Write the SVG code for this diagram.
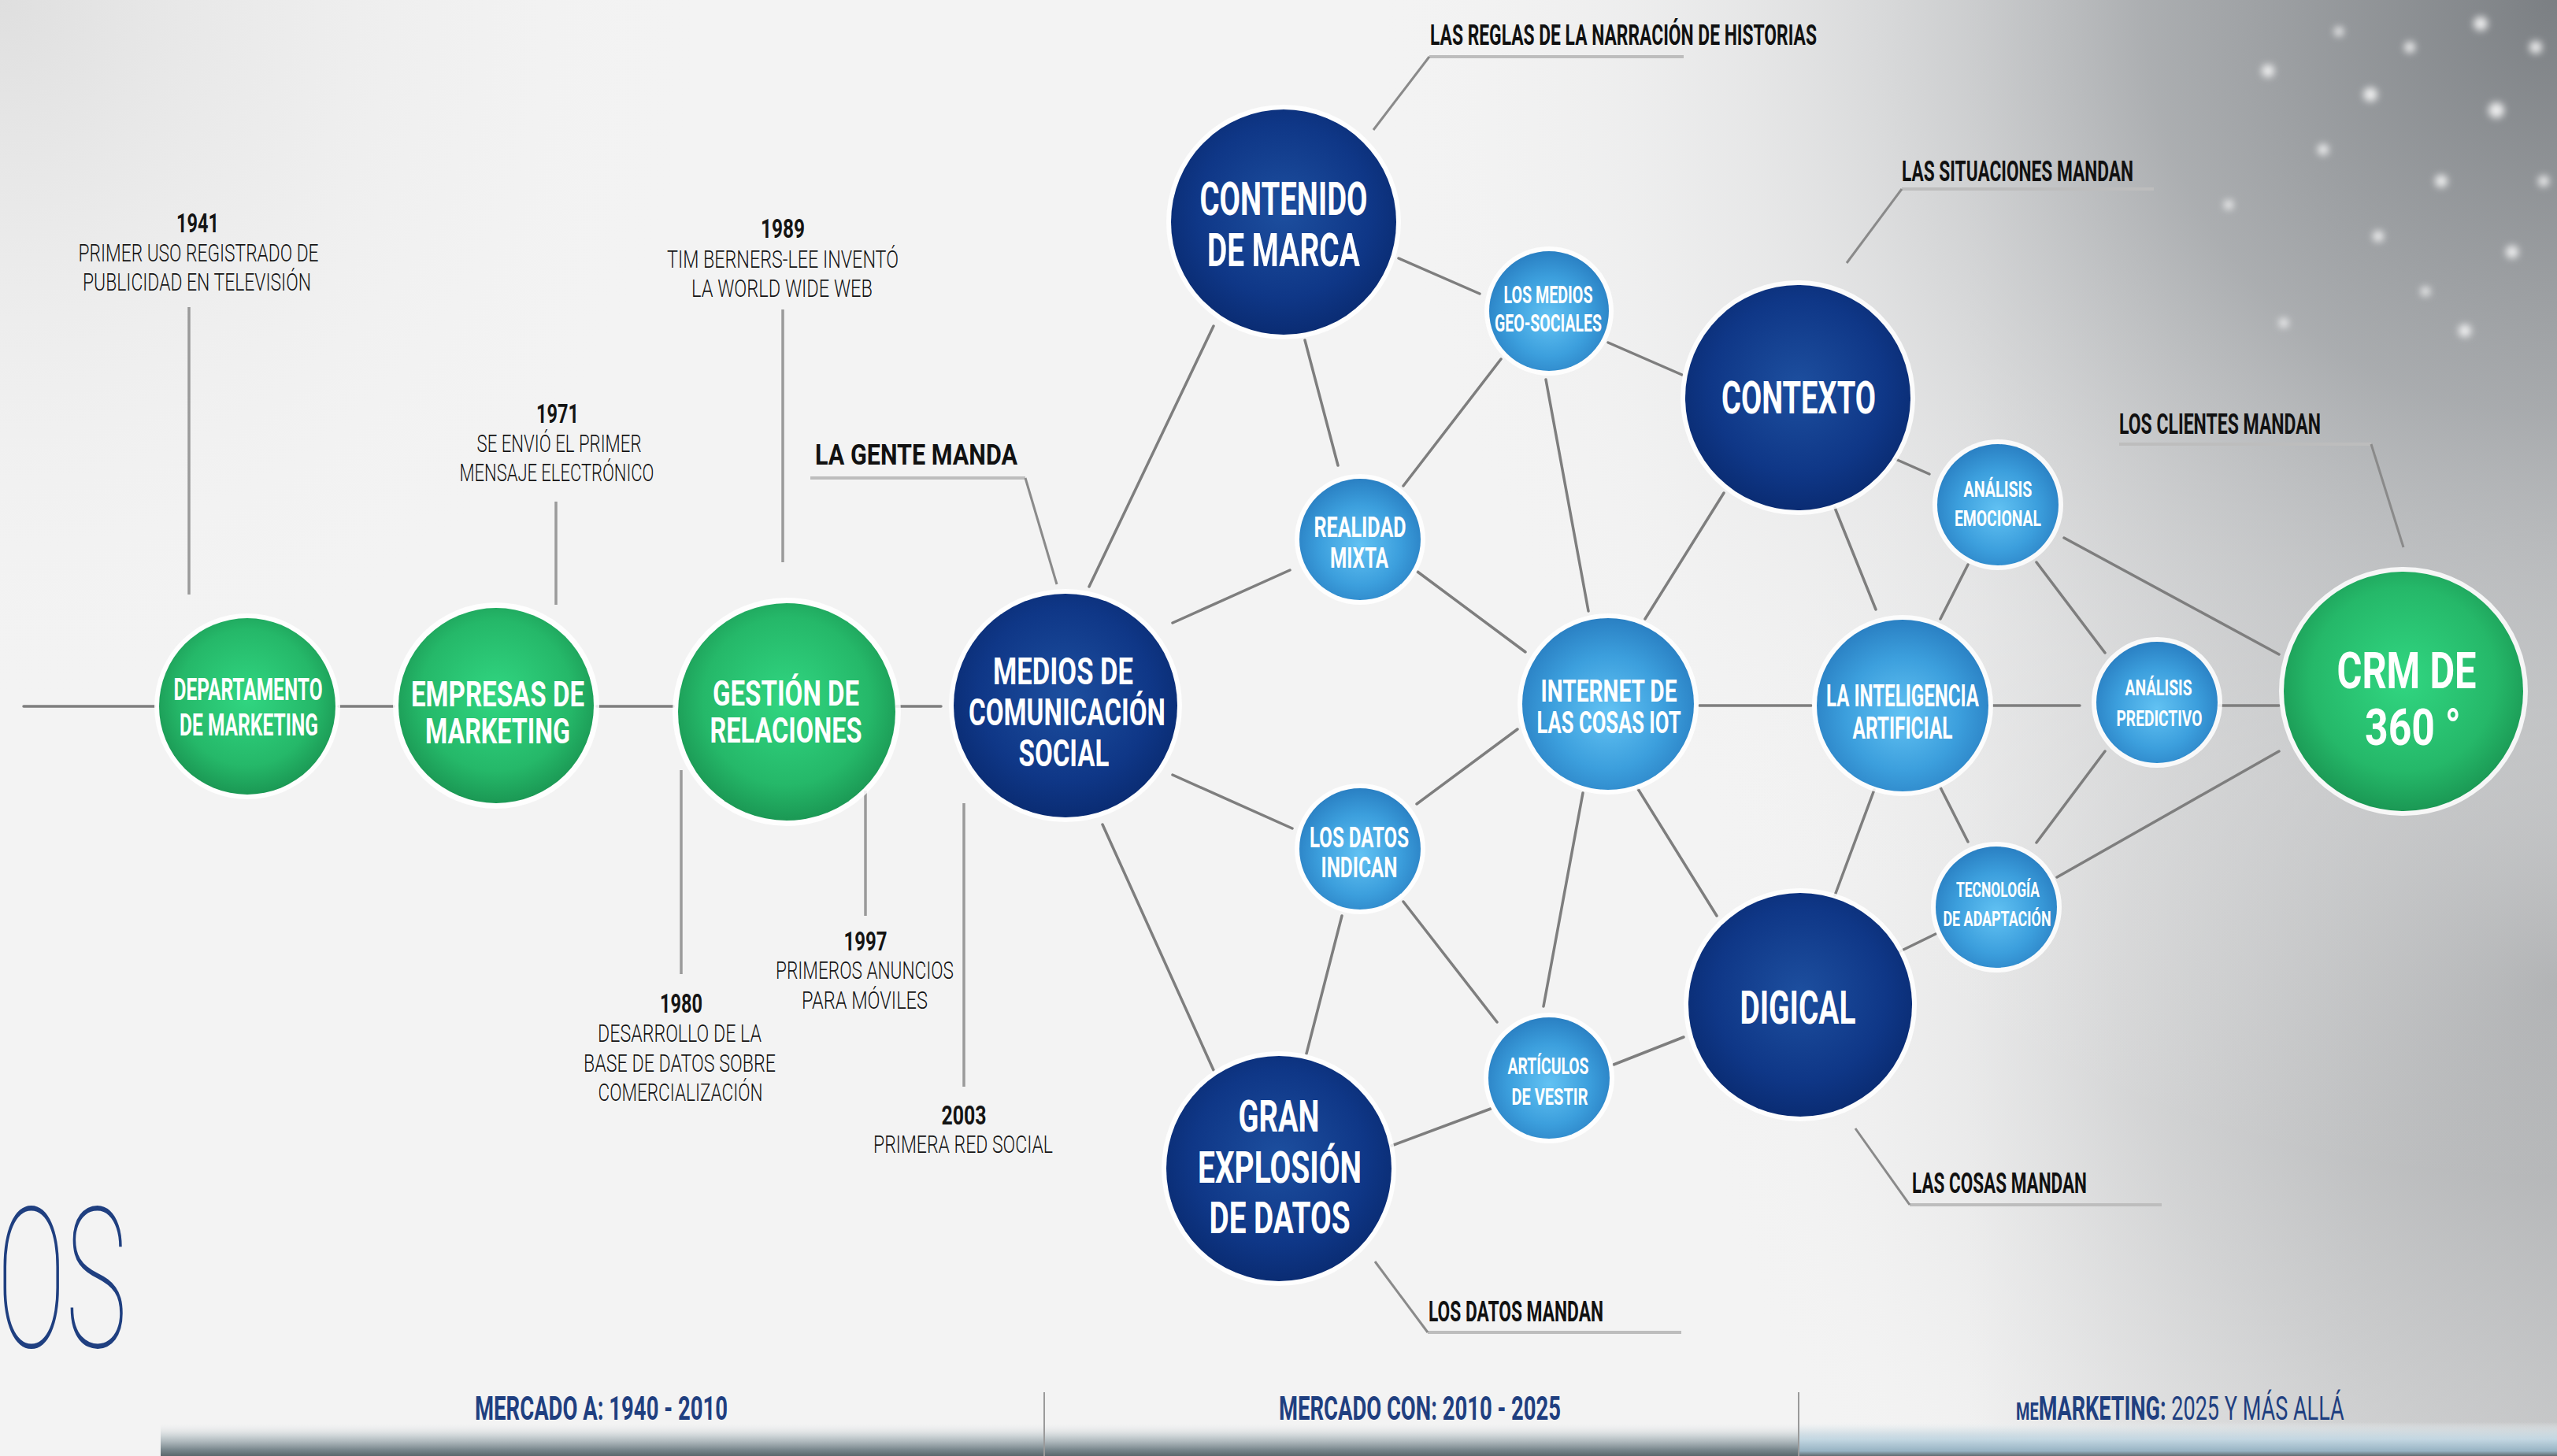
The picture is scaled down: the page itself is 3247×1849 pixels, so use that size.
<svg xmlns="http://www.w3.org/2000/svg" width="3247" height="1849" viewBox="0 0 3247 1849">
<defs>
<style>
.conn{stroke:#7e7e7e;stroke-width:3.5;fill:none;stroke-linecap:round}
.tl{stroke:#9a9a9a;stroke-width:3.5;fill:none}
.under{stroke:#bdbdbd;stroke-width:4;fill:none}
.lead{stroke:#8a8a8a;stroke-width:3;fill:none}
.halo{fill:#ffffff;opacity:0.85}
.nt{font-family:"Roboto","Liberation Sans",sans-serif;font-weight:700;fill:#ffffff;text-anchor:middle}
.ann{font-family:"Roboto","Liberation Sans",sans-serif;fill:#141414;text-anchor:middle}
.yr{font-weight:700;font-size:34px}
.ds{font-weight:300;font-size:32px}
.ld{font-family:"Roboto","Liberation Sans",sans-serif;font-weight:700;fill:#111111;font-size:36px}
.bt{font-family:"Roboto","Liberation Sans",sans-serif;font-weight:700;fill:#1f3f80;font-size:42px}
</style>
<radialGradient id="gGreen" cx="50%" cy="45%" r="55%">
<stop offset="0" stop-color="#31d681"/><stop offset="0.7" stop-color="#25b869"/><stop offset="1" stop-color="#1b9854"/>
</radialGradient>
<radialGradient id="gDark" cx="50%" cy="45%" r="55%">
<stop offset="0" stop-color="#1d4f9f"/><stop offset="0.7" stop-color="#0f3787"/><stop offset="1" stop-color="#0a2c73"/>
</radialGradient>
<radialGradient id="gLight" cx="50%" cy="55%" r="55%">
<stop offset="0" stop-color="#62c2f3"/><stop offset="0.6" stop-color="#3c9fdd"/><stop offset="1" stop-color="#2a80c3"/>
</radialGradient>
<radialGradient id="bgTR" cx="3247" cy="0" r="1500" gradientUnits="userSpaceOnUse">
<stop offset="0" stop-color="#7b7f83" stop-opacity="1"/><stop offset="0.35" stop-color="#a2a5a8" stop-opacity="0.85"/><stop offset="0.7" stop-color="#d6d7d8" stop-opacity="0.4"/><stop offset="1" stop-color="#f3f3f3" stop-opacity="0"/>
</radialGradient>
<radialGradient id="bgBR" cx="3247" cy="1250" r="1100" gradientUnits="userSpaceOnUse">
<stop offset="0" stop-color="#a3a5a7" stop-opacity="0.95"/><stop offset="0.5" stop-color="#c9cacb" stop-opacity="0.6"/><stop offset="1" stop-color="#f3f3f3" stop-opacity="0"/>
</radialGradient>
<linearGradient id="bgR" x1="2500" y1="0" x2="3247" y2="0" gradientUnits="userSpaceOnUse">
<stop offset="0" stop-color="#b0b2b4" stop-opacity="0"/><stop offset="1" stop-color="#aeb0b2" stop-opacity="0.75"/>
</linearGradient>
<radialGradient id="bgTL" cx="0" cy="0" r="900" gradientUnits="userSpaceOnUse">
<stop offset="0" stop-color="#dadada" stop-opacity="0.8"/><stop offset="1" stop-color="#f3f3f3" stop-opacity="0"/>
</radialGradient>
<linearGradient id="band" x1="0" y1="0" x2="0" y2="1">
<stop offset="0" stop-color="#f4f4f4" stop-opacity="0"/><stop offset="0.45" stop-color="#b9c3c7" stop-opacity="0.8"/><stop offset="0.8" stop-color="#7c8a90"/><stop offset="1" stop-color="#5b676c"/>
</linearGradient>
<linearGradient id="bandR" x1="0" y1="0" x2="0" y2="1">
<stop offset="0" stop-color="#e8f0f4" stop-opacity="0"/><stop offset="0.5" stop-color="#c5dae6" stop-opacity="0.9"/><stop offset="0.85" stop-color="#98b4c4"/><stop offset="1" stop-color="#5f6b70"/>
</linearGradient>
<filter id="blur" x="-2" y="-2" width="5" height="5"><feGaussianBlur stdDeviation="5"/></filter>
</defs>

<!-- background -->
<rect x="0" y="0" width="3247" height="1849" fill="#f3f3f3"/>
<rect x="0" y="0" width="3247" height="1849" fill="url(#bgTL)"/>
<rect x="0" y="0" width="3247" height="1849" fill="url(#bgR)"/>
<rect x="0" y="0" width="3247" height="1849" fill="url(#bgBR)"/>
<rect x="0" y="0" width="3247" height="1849" fill="url(#bgTR)"/>
<g fill="#ffffff" filter="url(#blur)" opacity="0.85">
<circle cx="2880" cy="90" r="8"/><circle cx="2950" cy="190" r="7"/><circle cx="3010" cy="120" r="9"/><circle cx="3100" cy="230" r="8"/>
<circle cx="3060" cy="60" r="7"/><circle cx="3170" cy="140" r="10"/><circle cx="3020" cy="300" r="7"/><circle cx="3190" cy="320" r="8"/>
<circle cx="2900" cy="410" r="6"/><circle cx="3130" cy="420" r="8"/><circle cx="3220" cy="60" r="8"/><circle cx="2830" cy="260" r="6"/>
<circle cx="3080" cy="370" r="6"/><circle cx="2970" cy="40" r="6"/><circle cx="3150" cy="30" r="9"/><circle cx="3230" cy="230" r="7"/>
</g>

<!-- big thin letters at left -->
<text x="-4" y="1711" textLength="165" lengthAdjust="spacingAndGlyphs" font-family="Roboto, 'Liberation Sans', sans-serif" font-weight="100" font-size="248" fill="#1f3f80">OS</text>

<!-- bottom band -->
<g id="bottom-band">
<rect x="204" y="1806" width="3043" height="43" fill="url(#band)"/>
<rect x="2284" y="1806" width="963" height="43" fill="url(#bandR)"/>
<line x1="1326" y1="1768" x2="1326" y2="1849" stroke="#9a9a9a" stroke-width="2"/>
<line x1="2284" y1="1768" x2="2284" y2="1849" stroke="#9a9a9a" stroke-width="2"/>
<text class="bt" x="603" y="1803" textLength="321" lengthAdjust="spacingAndGlyphs">MERCADO A: 1940 - 2010</text>
<text class="bt" x="1624" y="1803" textLength="358" lengthAdjust="spacingAndGlyphs">MERCADO CON: 2010 - 2025</text>
<text class="bt" font-size="40" transform="translate(2560,1803) scale(0.644,1)"><tspan font-size="31">ME</tspan>MARKETING:<tspan font-weight="400"> 2025 Y MÁS ALLÁ</tspan></text>
</g>

<!-- connectors -->
<g id="connectors">
<line class="conn" x1="30" y1="897" x2="196" y2="897"/>
<line class="conn" x1="430" y1="897" x2="500" y2="897"/>
<line class="conn" x1="758" y1="897" x2="855" y2="897"/>
<line class="conn" x1="1138" y1="897" x2="1195" y2="897"/>
<line class="conn" x1="2158" y1="896" x2="2300" y2="896"/>
<line class="conn" x1="2531" y1="896" x2="2641" y2="896"/>
<line class="conn" x1="2818" y1="896" x2="2894" y2="896"/>
<line class="conn" x1="1383" y1="745" x2="1541" y2="414"/>
<line class="conn" x1="1489" y1="791" x2="1638" y2="724"/>
<line class="conn" x1="1489" y1="984" x2="1641" y2="1052"/>
<line class="conn" x1="1400" y1="1047" x2="1541" y2="1359"/>
<line class="conn" x1="1776" y1="328" x2="1879" y2="373"/>
<line class="conn" x1="1657" y1="432" x2="1699" y2="591"/>
<line class="conn" x1="1782" y1="617" x2="1906" y2="456"/>
<line class="conn" x1="2042" y1="435" x2="2136" y2="476"/>
<line class="conn" x1="1963" y1="482" x2="2017" y2="776"/>
<line class="conn" x1="1800" y1="726" x2="1937" y2="828"/>
<line class="conn" x1="2189" y1="626" x2="2089" y2="786"/>
<line class="conn" x1="1799" y1="1021" x2="1927" y2="926"/>
<line class="conn" x1="1704" y1="1163" x2="1659" y2="1338"/>
<line class="conn" x1="1782" y1="1145" x2="1901" y2="1298"/>
<line class="conn" x1="2010" y1="1007" x2="1960" y2="1278"/>
<line class="conn" x1="2080" y1="1002" x2="2180" y2="1163"/>
<line class="conn" x1="1767" y1="1455" x2="1893" y2="1408"/>
<line class="conn" x1="2049" y1="1352" x2="2138" y2="1317"/>
<line class="conn" x1="2330" y1="645" x2="2382" y2="774"/>
<line class="conn" x1="2407" y1="583" x2="2450" y2="602"/>
<line class="conn" x1="2499" y1="717" x2="2464" y2="786"/>
<line class="conn" x1="2586" y1="714" x2="2673" y2="829"/>
<line class="conn" x1="2621" y1="683" x2="2894" y2="831"/>
<line class="conn" x1="2330" y1="1137" x2="2380" y2="1003"/>
<line class="conn" x1="2464" y1="1000" x2="2499" y2="1069"/>
<line class="conn" x1="2586" y1="1070" x2="2673" y2="954"/>
<line class="conn" x1="2612" y1="1114" x2="2894" y2="954"/>
<line class="conn" x1="2413" y1="1208" x2="2458" y2="1186"/>
</g>

<!-- timeline annotations -->
<g id="timeline">
<line class="tl" x1="240" y1="390" x2="240" y2="755"/>
<text class="ann"><tspan class="yr" x="251" y="295" textLength="54" lengthAdjust="spacingAndGlyphs">1941</tspan><tspan class="ds" x="252" y="332" textLength="305" lengthAdjust="spacingAndGlyphs">PRIMER USO REGISTRADO DE</tspan><tspan class="ds" x="250" y="369" textLength="290" lengthAdjust="spacingAndGlyphs">PUBLICIDAD EN TELEVISIÓN</tspan></text>

<line class="tl" x1="706" y1="637" x2="706" y2="768"/>
<text class="ann"><tspan class="yr" x="708" y="537" textLength="54" lengthAdjust="spacingAndGlyphs">1971</tspan><tspan class="ds" x="710" y="574" textLength="209" lengthAdjust="spacingAndGlyphs">SE ENVIÓ EL PRIMER</tspan><tspan class="ds" x="707" y="611" textLength="247" lengthAdjust="spacingAndGlyphs">MENSAJE ELECTRÓNICO</tspan></text>

<line class="tl" x1="994" y1="393" x2="994" y2="714"/>
<text class="ann"><tspan class="yr" x="994" y="302" textLength="56" lengthAdjust="spacingAndGlyphs">1989</tspan><tspan class="ds" x="994" y="340" textLength="294" lengthAdjust="spacingAndGlyphs">TIM BERNERS-LEE INVENTÓ</tspan><tspan class="ds" x="993" y="377" textLength="230" lengthAdjust="spacingAndGlyphs">LA WORLD WIDE WEB</tspan></text>

<line class="tl" x1="865" y1="978" x2="865" y2="1237"/>
<text class="ann"><tspan class="yr" x="865" y="1286" textLength="54" lengthAdjust="spacingAndGlyphs">1980</tspan><tspan class="ds" x="863" y="1323" textLength="208" lengthAdjust="spacingAndGlyphs">DESARROLLO DE LA</tspan><tspan class="ds" x="863" y="1361" textLength="244" lengthAdjust="spacingAndGlyphs">BASE DE DATOS SOBRE</tspan><tspan class="ds" x="864" y="1398" textLength="209" lengthAdjust="spacingAndGlyphs">COMERCIALIZACIÓN</tspan></text>

<line class="tl" x1="1099" y1="1004" x2="1099" y2="1163"/>
<text class="ann"><tspan class="yr" x="1099" y="1207" textLength="55" lengthAdjust="spacingAndGlyphs">1997</tspan><tspan class="ds" x="1098" y="1243" textLength="226" lengthAdjust="spacingAndGlyphs">PRIMEROS ANUNCIOS</tspan><tspan class="ds" x="1098" y="1281" textLength="160" lengthAdjust="spacingAndGlyphs">PARA MÓVILES</tspan></text>

<line class="tl" x1="1224" y1="1020" x2="1224" y2="1380"/>
<text class="ann"><tspan class="yr" x="1224" y="1428" textLength="57" lengthAdjust="spacingAndGlyphs">2003</tspan><tspan class="ds" x="1223" y="1464" textLength="228" lengthAdjust="spacingAndGlyphs">PRIMERA RED SOCIAL</tspan></text>
</g>

<!-- leader labels -->
<g id="leaders">
<polyline class="under" points="1029,607 1302,607"/>
<polyline class="lead" points="1302,607 1342,742"/>
<text class="ld" x="1035" y="590" font-size="49" textLength="257" lengthAdjust="spacingAndGlyphs">LA GENTE MANDA</text>

<polyline class="under" points="1815,72 2138,72"/>
<polyline class="lead" points="1815,72 1744,165"/>
<text class="ld" x="1816" y="57" font-size="37" textLength="491" lengthAdjust="spacingAndGlyphs">LAS REGLAS DE LA NARRACIÓN DE HISTORIAS</text>

<polyline class="under" points="2415,240 2735,240"/>
<polyline class="lead" points="2415,240 2345,334"/>
<text class="ld" x="2415" y="230" textLength="294" lengthAdjust="spacingAndGlyphs">LAS SITUACIONES MANDAN</text>

<polyline class="under" points="2691,564 3011,564"/>
<polyline class="lead" points="3011,564 3052,695"/>
<text class="ld" x="2691" y="551" textLength="256" lengthAdjust="spacingAndGlyphs">LOS CLIENTES MANDAN</text>

<polyline class="under" points="1813,1692 2135,1692"/>
<polyline class="lead" points="1813,1692 1746,1602"/>
<text class="ld" x="1814" y="1678" textLength="222" lengthAdjust="spacingAndGlyphs">LOS DATOS MANDAN</text>

<polyline class="under" points="2425,1530 2745,1530"/>
<polyline class="lead" points="2425,1530 2356,1433"/>
<text class="ld" x="2428" y="1515" textLength="222" lengthAdjust="spacingAndGlyphs">LAS COSAS MANDAN</text>
</g>

<!-- nodes -->
<g id="n-departamento">
<circle class="halo" cx="314" cy="897" r="118"/><circle cx="314" cy="897" r="112" fill="url(#gGreen)"/>
<text class="nt" font-size="39"><tspan x="315" y="889" textLength="189" lengthAdjust="spacingAndGlyphs">DEPARTAMENTO</tspan><tspan x="316" y="934" textLength="176" lengthAdjust="spacingAndGlyphs">DE MARKETING</tspan></text>
</g>
<g id="n-empresas">
<circle class="halo" cx="630" cy="896" r="131"/><circle cx="630" cy="896" r="124" fill="url(#gGreen)"/>
<text class="nt" font-size="44"><tspan x="632" y="897" textLength="220" lengthAdjust="spacingAndGlyphs">EMPRESAS DE</tspan><tspan x="632" y="944" textLength="184" lengthAdjust="spacingAndGlyphs">MARKETING</tspan></text>
</g>
<g id="n-gestion">
<circle class="halo" cx="999" cy="904" r="145"/><circle cx="999" cy="904" r="138" fill="url(#gGreen)"/>
<text class="nt" font-size="44"><tspan x="998" y="896" textLength="186" lengthAdjust="spacingAndGlyphs">GESTIÓN DE</tspan><tspan x="998" y="943" textLength="193" lengthAdjust="spacingAndGlyphs">RELACIONES</tspan></text>
</g>
<g id="n-medios">
<circle class="halo" cx="1353" cy="896" r="148"/><circle cx="1353" cy="896" r="142" fill="url(#gDark)"/>
<text class="nt" font-size="49"><tspan x="1350" y="869" textLength="178" lengthAdjust="spacingAndGlyphs">MEDIOS DE</tspan><tspan x="1355" y="921" textLength="250" lengthAdjust="spacingAndGlyphs">COMUNICACIÓN</tspan><tspan x="1351" y="973" textLength="115" lengthAdjust="spacingAndGlyphs">SOCIAL</tspan></text>
</g>
<g id="n-contenido">
<circle class="halo" cx="1630" cy="282" r="149"/><circle cx="1630" cy="282" r="143" fill="url(#gDark)"/>
<text class="nt" font-size="60"><tspan x="1630" y="273" textLength="213" lengthAdjust="spacingAndGlyphs">CONTENIDO</tspan><tspan x="1630" y="338" textLength="194" lengthAdjust="spacingAndGlyphs">DE MARCA</tspan></text>
</g>
<g id="n-geo">
<circle class="halo" cx="1967" cy="395" r="82"/><circle cx="1967" cy="395" r="76" fill="url(#gLight)"/>
<text class="nt" font-size="32"><tspan x="1966" y="385" textLength="113" lengthAdjust="spacingAndGlyphs">LOS MEDIOS</tspan><tspan x="1966" y="421" textLength="136" lengthAdjust="spacingAndGlyphs">GEO-SOCIALES</tspan></text>
</g>
<g id="n-realidad">
<circle class="halo" cx="1727" cy="685" r="83"/><circle cx="1727" cy="685" r="77" fill="url(#gLight)"/>
<text class="nt" font-size="36"><tspan x="1727" y="682" textLength="117" lengthAdjust="spacingAndGlyphs">REALIDAD</tspan><tspan x="1726" y="721" textLength="74" lengthAdjust="spacingAndGlyphs">MIXTA</tspan></text>
</g>
<g id="n-contexto">
<circle class="halo" cx="2283" cy="505" r="149"/><circle cx="2283" cy="505" r="143" fill="url(#gDark)"/>
<text class="nt" x="2284" y="525" font-size="57" textLength="196" lengthAdjust="spacingAndGlyphs">CONTEXTO</text>
</g>
<g id="n-internet">
<circle class="halo" cx="2042" cy="894" r="115"/><circle cx="2042" cy="894" r="109" fill="url(#gLight)"/>
<text class="nt" font-size="38"><tspan x="2043" y="891" textLength="173" lengthAdjust="spacingAndGlyphs">INTERNET DE</tspan><tspan x="2043" y="931" textLength="183" lengthAdjust="spacingAndGlyphs">LAS COSAS IOT</tspan></text>
</g>
<g id="n-datos-indican">
<circle class="halo" cx="1727" cy="1078" r="83"/><circle cx="1727" cy="1078" r="77" fill="url(#gLight)"/>
<text class="nt" font-size="36"><tspan x="1726" y="1076" textLength="126" lengthAdjust="spacingAndGlyphs">LOS DATOS</tspan><tspan x="1726" y="1114" textLength="97" lengthAdjust="spacingAndGlyphs">INDICAN</tspan></text>
</g>
<g id="n-gran">
<circle class="halo" cx="1624" cy="1484" r="149"/><circle cx="1624" cy="1484" r="143" fill="url(#gDark)"/>
<text class="nt" font-size="55"><tspan x="1624" y="1437" textLength="103" lengthAdjust="spacingAndGlyphs">GRAN</tspan><tspan x="1625" y="1502" textLength="208" lengthAdjust="spacingAndGlyphs">EXPLOSIÓN</tspan><tspan x="1625" y="1566" textLength="179" lengthAdjust="spacingAndGlyphs">DE DATOS</tspan></text>
</g>
<g id="n-articulos">
<circle class="halo" cx="1967" cy="1369" r="83"/><circle cx="1967" cy="1369" r="77" fill="url(#gLight)"/>
<text class="nt" font-size="29"><tspan x="1966" y="1364" textLength="103" lengthAdjust="spacingAndGlyphs">ARTÍCULOS</tspan><tspan x="1968" y="1403" textLength="97" lengthAdjust="spacingAndGlyphs">DE VESTIR</tspan></text>
</g>
<g id="n-digical">
<circle class="halo" cx="2286" cy="1276" r="148"/><circle cx="2286" cy="1276" r="142" fill="url(#gDark)"/>
<text class="nt" x="2283" y="1300" font-size="59" textLength="147" lengthAdjust="spacingAndGlyphs">DIGICAL</text>
</g>
<g id="n-ia">
<circle class="halo" cx="2416" cy="896" r="115"/><circle cx="2416" cy="896" r="109" fill="url(#gLight)"/>
<text class="nt" font-size="38"><tspan x="2416" y="897" textLength="194" lengthAdjust="spacingAndGlyphs">LA INTELIGENCIA</tspan><tspan x="2416" y="938" textLength="127" lengthAdjust="spacingAndGlyphs">ARTIFICIAL</tspan></text>
</g>
<g id="n-emocional">
<circle class="halo" cx="2537" cy="641" r="83"/><circle cx="2537" cy="641" r="77" fill="url(#gLight)"/>
<text class="nt" font-size="27"><tspan x="2537" y="631" textLength="87" lengthAdjust="spacingAndGlyphs">ANÁLISIS</tspan><tspan x="2537" y="668" textLength="110" lengthAdjust="spacingAndGlyphs">EMOCIONAL</tspan></text>
</g>
<g id="n-predictivo">
<circle class="halo" cx="2739" cy="892" r="83"/><circle cx="2739" cy="892" r="77" fill="url(#gLight)"/>
<text class="nt" font-size="28"><tspan x="2741" y="883" textLength="85" lengthAdjust="spacingAndGlyphs">ANÁLISIS</tspan><tspan x="2742" y="922" textLength="109" lengthAdjust="spacingAndGlyphs">PREDICTIVO</tspan></text>
</g>
<g id="n-tecnologia">
<circle class="halo" cx="2535" cy="1152" r="83"/><circle cx="2535" cy="1152" r="77" fill="url(#gLight)"/>
<text class="nt" font-size="26"><tspan x="2537" y="1139" textLength="106" lengthAdjust="spacingAndGlyphs">TECNOLOGÍA</tspan><tspan x="2536" y="1176" textLength="137" lengthAdjust="spacingAndGlyphs">DE ADAPTACIÓN</tspan></text>
</g>
<g id="n-crm">
<circle class="halo" cx="3052" cy="878" r="158" opacity="0.6"/><circle cx="3052" cy="878" r="152" fill="url(#gGreen)"/>
<text class="nt" font-size="64"><tspan x="3056" y="874" textLength="177" lengthAdjust="spacingAndGlyphs">CRM DE</tspan><tspan x="3064" y="946" textLength="122" lengthAdjust="spacingAndGlyphs">360 °</tspan></text>
</g>
</svg>
